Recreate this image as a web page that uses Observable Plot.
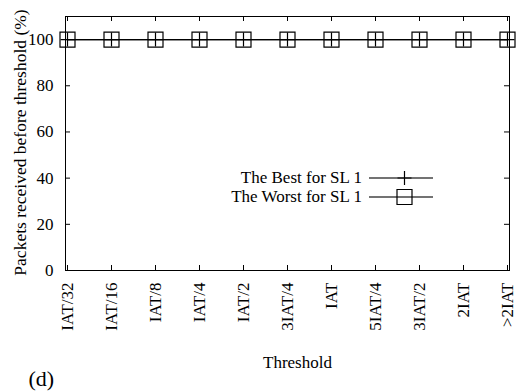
<!DOCTYPE html>
<html>
<head>
<meta charset="utf-8">
<script src="https://cdn.jsdelivr.net/npm/d3@7"></script>
<script src="https://cdn.jsdelivr.net/npm/@observablehq/plot@0.6"></script>
<style>
  html, body { margin: 0; padding: 0; background: #fff; }
  #chart { width: 520px; height: 392px; }
  svg { font-family: "Liberation Serif", "Times New Roman", serif; }
</style>
</head>
<body>
<div id="chart"></div>
<script>
// Threshold categories along the x axis
const thresholds = ["IAT/32", "IAT/16", "IAT/8", "IAT/4", "IAT/2", "3IAT/4", "IAT", "5IAT/4", "3IAT/2", "2IAT", ">2IAT"];
// Percentage of packets received before the threshold
const bestSL1 = [100, 100, 100, 100, 100, 100, 100, 100, 100, 100, 100];
const worstSL1 = [100, 100, 100, 100, 100, 100, 100, 100, 100, 100, 100];
const yTicks = [0, 20, 40, 60, 80, 100];
const seriesNames = ["The Best for SL 1", "The Worst for SL 1"];

const W = 520, H = 392;
const mL = 65, mR = 11, mT = 16, mB = 122;
const plotW = W - mL - mR, plotH = H - mT - mB;
const font = "Liberation Serif, Times New Roman, serif";

// gnuplot-like point shapes drawn at a given half-extent r
const plusSymbol = {
  draw(ctx, size) {
    const h = Math.sqrt(size / Math.PI);
    ctx.moveTo(-h, 0); ctx.lineTo(h, 0);
    ctx.moveTo(0, -h); ctx.lineTo(0, h);
  }
};
const squareSymbol = {
  draw(ctx, size) {
    const h = Math.sqrt(size / Math.PI);
    ctx.moveTo(-h, -h); ctx.lineTo(h, -h); ctx.lineTo(h, h); ctx.lineTo(-h, h); ctx.closePath();
  }
};

const rows = thresholds.flatMap((t, i) => [
  {threshold: t, value: bestSL1[i], series: seriesNames[0]},
  {threshold: t, value: worstSL1[i], series: seriesNames[1]}
]);
const best = rows.filter(d => d.series === seriesNames[0]);
const worst = rows.filter(d => d.series === seriesNames[1]);

const chart = Plot.plot({
  width: W, height: H,
  marginLeft: mL, marginRight: mR, marginTop: mT, marginBottom: mB,
  style: {fontFamily: font, fontSize: "17px", color: "#000", background: "#fff"},
  x: {type: "point", domain: thresholds, padding: 0},
  y: {domain: [0, 110]},
  marks: [
    Plot.axisY(yTicks, {tickSize: 0, tickPadding: 12, fontSize: 17, label: null}),
    Plot.axisX({tickRotate: -90, tickSize: 0, tickPadding: 12, fontSize: 17, label: null}),
    // inward tick marks on all four sides
    Plot.ruleY(yTicks, {insetRight: plotW - 5, stroke: "#000", strokeWidth: 1}),
    Plot.ruleY(yTicks, {insetLeft: plotW - 5, stroke: "#000", strokeWidth: 1}),
    Plot.ruleX(thresholds, {insetTop: plotH - 5, stroke: "#000", strokeWidth: 1}),
    Plot.ruleX(thresholds, {insetBottom: plotH - 5, stroke: "#000", strokeWidth: 1}),
    Plot.frame({stroke: "#000", strokeWidth: 1}),
    // series lines and points
    Plot.line(worst, {x: "threshold", y: "value", stroke: "#000", strokeWidth: 1.3}),
    Plot.line(best, {x: "threshold", y: "value", stroke: "#000", strokeWidth: 1.3}),
    Plot.dot(worst, {x: "threshold", y: "value", symbol: squareSymbol, r: 7.5, stroke: "#000", strokeWidth: 1.2, fill: "none"}),
    Plot.dot(best, {x: "threshold", y: "value", symbol: plusSymbol, r: 7, stroke: "#000", strokeWidth: 1.2}),
    // axis titles
    Plot.text(["Threshold"], {frameAnchor: "bottom", textAnchor: "middle", dx: 297 - (mL + plotW / 2), dy: 97, lineAnchor: "bottom", fontSize: 17, fill: "#000"}),
    Plot.text(["Packets received before threshold (%)"], {frameAnchor: "left", textAnchor: "middle", dx: -45, dy: 142 - (mT + plotH / 2), rotate: -90, fontSize: 17.5, fill: "#000"}),
    Plot.text(["(d)"], {frameAnchor: "bottom-left", textAnchor: "start", dx: 28 - mL, dy: 115, lineAnchor: "bottom", fontSize: 22, fill: "#000"})
  ]
});

// legend, placed inside the plot area
const svg = d3.select(chart);
const legend = svg.append("g").attr("font-family", font).attr("font-size", 17);
const legendRows = [
  {name: seriesNames[0], symbol: plusSymbol, r: 7, y: 178},
  {name: seriesNames[1], symbol: squareSymbol, r: 7.5, y: 197}
];
legendRows.forEach(row => {
  const g = legend.append("g");
  g.append("text").attr("x", 362).attr("y", row.y).attr("dy", "0.32em")
    .attr("text-anchor", "end").attr("fill", "#000").text(row.name);
  g.append("line").attr("x1", 369).attr("x2", 433).attr("y1", row.y).attr("y2", row.y)
    .attr("stroke", "#444").attr("stroke-width", 1.3);
  g.append("path").attr("transform", `translate(404.5,${row.y})`)
    .attr("d", d3.symbol(row.symbol, Math.PI * row.r * row.r)())
    .attr("fill", "none").attr("stroke", "#000").attr("stroke-width", 1.2);
});

document.getElementById("chart").appendChild(chart);
</script>
</body>
</html>
